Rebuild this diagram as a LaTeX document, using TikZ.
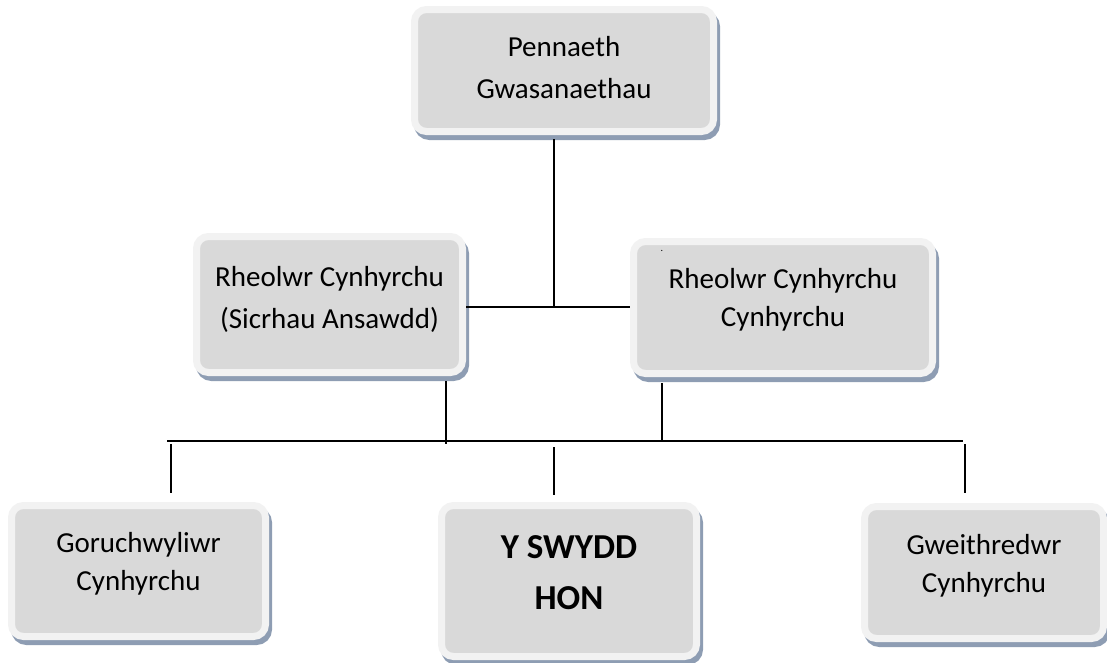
\documentclass[tikz,border=0pt]{standalone}
\usepackage{fontspec}
\setmainfont{Carlito}
\usepackage{tikz}
\usetikzlibrary{shadows}
\definecolor{framegray}{HTML}{F2F2F2}
\definecolor{boxgray}{HTML}{D9D9D9}
\definecolor{shadowblue}{HTML}{8E9DB3}

\begin{document}
\begin{tikzpicture}[x=1pt, y=-1pt,
  post/.style={draw=framegray, fill=boxgray, line width=7pt, rounded corners=12pt,
    align=center, inner sep=0pt, font=\fontsize{29}{38}\selectfont, text depth=20pt,
    drop shadow={shadow xshift=3pt, shadow yshift=-5pt, fill=shadowblue, draw=shadowblue, line width=7pt, opacity=1}},
  link/.style={line width=1.5pt, black}]
\useasboundingbox (0,0) rectangle (1107,662);
\node[post, minimum width=299pt, minimum height=122pt, text depth=6pt, font=\fontsize{29}{42}\selectfont] (pennaeth) at (564,70.5) {Pennaeth\\Gwasanaethau};
\node[post, minimum width=266pt, minimum height=136pt, text depth=15pt, font=\fontsize{29}{42}\selectfont] (rheolA) at (329.5,304.5) {Rheolwr Cynhyrchu\\(Sicrhau Ansawdd)};
\node[post, minimum width=299pt, minimum height=132pt] (rheolB) at (783,307.5) {Rheolwr Cynhyrchu\\Cynhyrchu};
\node[font=\fontsize{10}{10}\selectfont, inner sep=0pt] (speck) at (662,251) {.};
\node[post, minimum width=254pt, minimum height=131pt] (goruch) at (138.5,571) {Goruchwyliwr\\Cynhyrchu};
\node[post, minimum width=255pt, minimum height=151pt, text depth=16pt, font=\bfseries\fontsize{35}{51}\selectfont] (swydd) at (569,581) {Y SWYDD\\HON};
\node[post, minimum width=239pt, minimum height=132pt, text depth=18pt] (gweith) at (984,572.5) {Gweithredwr\\Cynhyrchu};

\coordinate (j1) at (554,307);
\coordinate (j2) at (446,441);
\coordinate (j3) at (662,441);
\coordinate (hl) at (167,441);
\coordinate (hr) at (963,441);
\coordinate (d1) at (171,444);
\coordinate (d2) at (554,447);
\coordinate (d3) at (965,444);

\draw[link] ([yshift=-4pt]pennaeth.south -| j1) -- (j1);
\draw[link] (rheolA.east |- j1) -- (rheolB.west |- j1);
\draw[link] ([yshift=-5pt]rheolA.south -| j2) -- ([yshift=-3pt]j2);
\draw[link] ([yshift=-6pt]rheolB.south -| j3) -- (j3);
\draw[link] (hl) -- (hr);
\draw[link] (d1) -- ([yshift=9pt]goruch.north -| d1);
\draw[link] (d2) -- ([yshift=7pt]swydd.north -| d2);
\draw[link] (d3) -- ([yshift=10pt]gweith.north -| d3);
\end{tikzpicture}
\end{document}
